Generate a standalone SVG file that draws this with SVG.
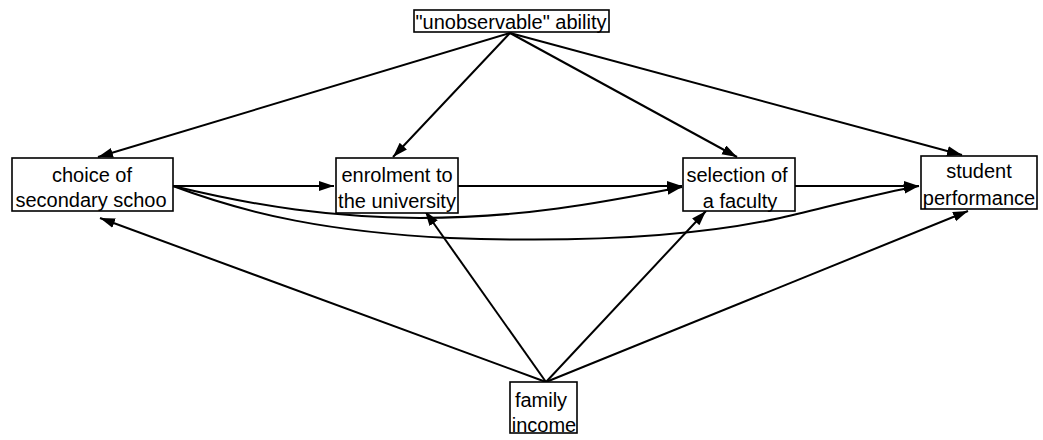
<svg xmlns="http://www.w3.org/2000/svg" width="1043" height="440" viewBox="0 0 1043 440">
<style>
.box{fill:#fff;stroke:#000;stroke-width:1.6}
.t{font-family:"Liberation Sans",Arial,sans-serif;font-size:20px;fill:#000;text-anchor:middle}
.e{fill:none;stroke:#000;stroke-width:2}
</style>
<defs>
<marker id="ah" markerUnits="userSpaceOnUse" markerWidth="16" markerHeight="12" refX="15" refY="5" orient="auto">
<path d="M0,0 L15,5 L0,10 Z" fill="#000"/>
</marker>
</defs>
<rect width="1043" height="440" fill="#fff"/>
<g id="connectors">
<path class="e" marker-end="url(#ah)" d="M510,33 L98,157"/>
<path class="e" marker-end="url(#ah)" d="M510,33 L393,157"/>
<path class="e" marker-end="url(#ah)" d="M510,33 L737,157"/>
<path class="e" marker-end="url(#ah)" d="M510,33 L962,155"/>
<path class="e" marker-end="url(#ah)" d="M173,186 L334,186"/>
<path class="e" marker-end="url(#ah)" d="M458,186 L682,186"/>
<path class="e" marker-end="url(#ah)" d="M795,186 L919,186"/>
<path class="e" marker-end="url(#ah)" d="M173,186 C260,207 330,217 420,218 C520,218 600,203 682,187"/>
<path class="e" marker-end="url(#ah)" d="M173,186 C250,215 330,232 450,238 C560,242 680,240 780,218 C840,204 880,193 919,186"/>
<path class="e" marker-end="url(#ah)" d="M546,382 L100,218"/>
<path class="e" marker-end="url(#ah)" d="M546,382 L425,211"/>
<path class="e" marker-end="url(#ah)" d="M546,382 L706,211"/>
<path class="e" marker-end="url(#ah)" d="M546,382 L968,211"/>
</g>
<g id="ability">
<rect class="box" x="414" y="10" width="195" height="22"/>
<text class="t" x="511" y="29">"unobservable" ability</text>
</g>
<g id="choice">
<rect class="box" x="12" y="158" width="161" height="53"/>
<text class="t" x="92" y="182">choice of</text>
<text class="t" x="91" y="207">secondary schoo</text>
</g>
<g id="enrolment">
<rect class="box" x="336" y="158" width="122" height="55"/>
<text class="t" x="397" y="182">enrolment to</text>
<text class="t" x="397" y="208">the university</text>
</g>
<g id="selection">
<rect class="box" x="683" y="158" width="112" height="53"/>
<text class="t" x="737" y="182">selection of</text>
<text class="t" x="740" y="208">a faculty</text>
</g>
<g id="performance">
<rect class="box" x="921" y="156" width="116" height="53"/>
<text class="t" x="979" y="178">student</text>
<text class="t" x="979" y="205">performance</text>
</g>
<g id="income">
<rect class="box" x="510" y="382" width="67" height="51"/>
<text class="t" x="541" y="407">family</text>
<text class="t" x="544" y="432">income</text>
</g>
</svg>
